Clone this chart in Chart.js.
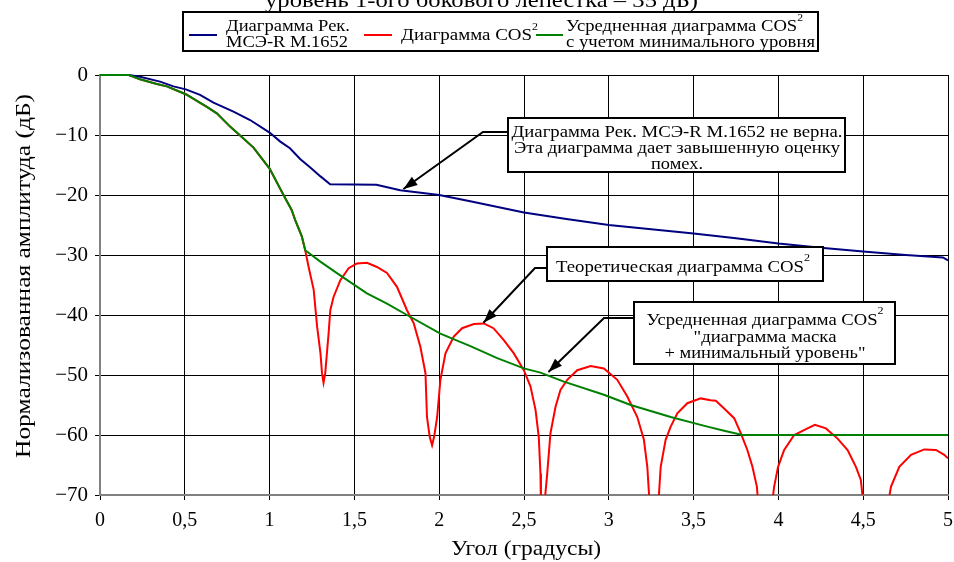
<!DOCTYPE html>
<html><head><meta charset="utf-8">
<script src="https://cdn.jsdelivr.net/npm/chart.js@4.4.0/dist/chart.umd.min.js"></script>
<style>html,body{margin:0;padding:0;background:#fff;}#wrap{width:954px;height:562px;}</style>
</head><body><div id="wrap"><canvas id="c" width="954" height="562"></canvas></div>
<script>
// ---- tick labels ----
const xTickLabels = ["0","0,5","1","1,5","2","2,5","3","3,5","4","4,5","5"];
const yTickLabels = ["0","\u221210","\u221220","\u221230","\u221240","\u221250","\u221260","\u221270"];

// ---- series: Рек. МСЭ-R M.1652 ----
const blueX = [0,0.17,0.236,0.354,0.433,0.506,0.59,0.669,0.787,0.885,1.0,1.063,1.12,1.18,1.24,1.3,1.357,1.63,1.77,2.0,2.19,2.5,2.75,3.0,3.25,3.5,3.75,4.0,4.25,4.5,4.75,4.97,5.0];
const blueY = [0,0,-0.3,-1.1,-1.9,-2.4,-3.3,-4.6,-6.1,-7.5,-9.6,-11.1,-12.2,-14.0,-15.4,-16.9,-18.2,-18.3,-19.2,-20.0,-21.1,-22.9,-24.0,-25.0,-25.7,-26.4,-27.2,-28.1,-28.8,-29.4,-30.0,-30.4,-30.9];

// ---- series: Диаграмма COS^2 (theoretical) ----
const redX = [0,0.17,0.236,0.335,0.394,0.506,0.63,0.689,0.767,0.846,0.905,1.0,1.082,1.13,1.151,1.19,1.21,1.23,1.26,1.28,1.30,1.309,1.318,1.328,1.348,1.358,1.377,1.417,1.466,1.515,1.574,1.633,1.692,1.751,1.81,1.85,1.889,1.919,1.928,1.944,1.958,1.97,1.988,2.007,2.037,2.086,2.135,2.204,2.263,2.32,2.381,2.44,2.499,2.538,2.568,2.587,2.597,2.600,2.619,2.637,2.656,2.686,2.715,2.755,2.814,2.893,2.971,3.05,3.109,3.168,3.207,3.227,3.242,3.291,3.306,3.335,3.365,3.404,3.463,3.542,3.60,3.631,3.68,3.739,3.778,3.817,3.847,3.873,3.883,3.960,3.975,3.998,4.034,4.093,4.172,4.215,4.28,4.349,4.408,4.457,4.486,4.503,4.643,4.664,4.713,4.782,4.86,4.929,4.978,5.0];
const redY = [0,0,-0.7,-1.5,-1.9,-3.2,-5.3,-6.4,-8.6,-10.6,-12.1,-15.6,-20.0,-22.5,-24.2,-26.9,-29.2,-32.0,-35.8,-41.9,-46.4,-49.7,-51.3,-49.7,-43.0,-39.2,-37.0,-34.2,-32.2,-31.4,-31.3,-32.0,-33.0,-35.3,-39.2,-41.4,-45.3,-49.7,-57.0,-60.3,-61.7,-60.3,-57.0,-50.8,-46.4,-43.6,-42.2,-41.5,-41.4,-42.2,-44.2,-46.4,-49.2,-51.9,-55.8,-60.3,-66.4,-72,-72,-66.4,-59.7,-55.3,-52.5,-50.8,-49.2,-48.5,-48.9,-50.8,-53.6,-57.0,-60.8,-65.3,-72,-72,-65.3,-60.8,-58.6,-56.4,-54.7,-53.9,-54.2,-54.3,-55.6,-57.2,-59.7,-62.5,-65.3,-68.6,-72,-72,-68.6,-65.3,-62.5,-60.0,-58.9,-58.3,-58.9,-60.6,-62.5,-65.3,-67.5,-72,-72,-68.6,-65.3,-63.3,-62.4,-62.5,-63.3,-63.9];

// ---- series: Усредненная диаграмма COS^2 с учетом минимального уровня ----
const greenX = [0,0.17,0.236,0.335,0.394,0.506,0.63,0.689,0.767,0.846,0.905,1.0,1.082,1.13,1.151,1.19,1.21,1.299,1.427,1.574,1.692,1.81,2.007,2.184,2.342,2.499,2.597,2.735,2.971,3.129,3.365,3.581,3.68,3.788,5.0];
const greenY = [0,0,-0.7,-1.5,-1.9,-3.2,-5.3,-6.4,-8.6,-10.6,-12.1,-15.6,-20.0,-22.5,-24.2,-26.9,-29.2,-31.1,-33.6,-36.4,-38.1,-40.0,-43.1,-45.2,-47.2,-48.9,-49.6,-51.1,-53.3,-55.0,-57.0,-58.6,-59.3,-60.0,-60.0];

const FONT = "'Liberation Serif','Times New Roman',serif";
const pts = (xs, ys) => xs.map((x, i) => ({x, y: ys[i]}));

// draw text made of segments [{t, sup}]; align 'left'|'center'; optional target width (horizontal stretch)
function drawRich(ctx, segs, x, y, size, align, target) {
  const supSize = Math.round(size * 0.62);
  let w = 0;
  segs.forEach(s => { ctx.font = (s.sup ? supSize : size) + "px " + FONT; w += ctx.measureText(s.t).width; });
  const k = target ? target / w : 1;
  const W = w * k;
  const x0 = align === 'center' ? x - W / 2 : x;
  ctx.save();
  ctx.translate(x0, y); ctx.scale(k, 1);
  ctx.textAlign = 'left'; ctx.textBaseline = 'alphabetic'; ctx.fillStyle = '#000';
  let cx = 0;
  segs.forEach(s => {
    ctx.font = (s.sup ? supSize : size) + "px " + FONT;
    ctx.fillText(s.t, cx, s.sup ? -size * 0.62 : 0);
    cx += ctx.measureText(s.t).width;
  });
  ctx.restore();
}

function arrow(ctx, p0, p1, tip) {
  ctx.save();
  ctx.strokeStyle = '#000'; ctx.fillStyle = '#000'; ctx.lineWidth = 2;
  ctx.beginPath(); ctx.moveTo(p0[0], p0[1]); ctx.lineTo(p1[0], p1[1]); ctx.lineTo(tip[0], tip[1]); ctx.stroke();
  const a = Math.atan2(tip[1] - p1[1], tip[0] - p1[0]);
  const L = 14, W = 5;
  ctx.beginPath();
  ctx.moveTo(tip[0], tip[1]);
  ctx.lineTo(tip[0] - L * Math.cos(a) + W * Math.sin(a), tip[1] - L * Math.sin(a) - W * Math.cos(a));
  ctx.lineTo(tip[0] - L * Math.cos(a) - W * Math.sin(a), tip[1] - L * Math.sin(a) + W * Math.cos(a));
  ctx.closePath(); ctx.fill();
  ctx.restore();
}

function box(ctx, x0, y0, x1, y1) {
  ctx.save();
  ctx.fillStyle = '#fff'; ctx.fillRect(x0, y0, x1 - x0, y1 - y0);
  ctx.strokeStyle = '#000'; ctx.lineWidth = 2; ctx.strokeRect(x0, y0, x1 - x0, y1 - y0);
  ctx.restore();
}

const annotations = {
  id: 'annotations',
  afterDatasetsDraw(chart) {
    const ctx = chart.ctx, sx = chart.scales.x, sy = chart.scales.y;
    const P = (x, y) => [sx.getPixelForValue(x), sy.getPixelForValue(y)];
    ctx.save();
    // annotation 1
    arrow(ctx, [508, 132], [483, 132], P(1.789, -19.0));
    box(ctx, 508, 118, 845, 172);
    drawRich(ctx, [{t: 'Диаграмма Рек. МСЭ-R M.1652 не верна.'}], 677, 136.5, 17, 'center', 331);
    drawRich(ctx, [{t: 'Эта диаграмма дает завышенную оценку'}], 677, 152.5, 17, 'center', 326);
    drawRich(ctx, [{t: 'помех.'}], 677, 168.5, 17, 'center', 52);
    // annotation 2
    arrow(ctx, [547, 268], [535, 268], P(2.261, -41.3));
    box(ctx, 547, 247, 823, 281);
    drawRich(ctx, [{t: 'Теоретическая диаграмма COS'}, {t: '2', sup: true}], 683, 272, 17, 'center', 254);
    // annotation 3
    arrow(ctx, [634, 318], [604, 318], P(2.644, -49.5));
    box(ctx, 634, 302, 895, 364);
    drawRich(ctx, [{t: 'Усредненная диаграмма COS'}, {t: '2', sup: true}], 765, 325, 17, 'center', 237);
    drawRich(ctx, [{t: '"диаграмма маска'}], 765, 342, 17, 'center', 143);
    drawRich(ctx, [{t: '+ минимальный уровень"'}], 765, 358, 17, 'center', 201);
    ctx.restore();
  },
  afterDraw(chart) {
    const ctx = chart.ctx;
    ctx.save();
    // clipped title remnant at the top edge
    drawRich(ctx, [{t: 'уровень 1-ого бокового лепестка \u2013 35 дБ)'}], 265, 7, 22, 'left', 433);
    // legend
    box(ctx, 183, 12, 818, 51);
    const lw = (c, x0, x1) => { ctx.strokeStyle = c; ctx.lineWidth = 2; ctx.beginPath(); ctx.moveTo(x0, 35); ctx.lineTo(x1, 35); ctx.stroke(); };
    lw('#000080', 189, 217);
    drawRich(ctx, [{t: 'Диаграмма Рек.'}], 226, 30.5, 16, 'left', 124);
    drawRich(ctx, [{t: 'МСЭ-R M.1652'}], 226, 46.5, 16, 'left', 122);
    lw('#ff0000', 364, 392);
    drawRich(ctx, [{t: 'Диаграмма COS'}, {t: '2', sup: true}], 401, 40, 16, 'left', 137);
    lw('#008000', 536, 563);
    drawRich(ctx, [{t: 'Усредненная диаграмма COS'}, {t: '2', sup: true}], 566, 30.5, 16, 'left', 237);
    drawRich(ctx, [{t: 'с учетом минимального уровня'}], 566, 46.5, 16, 'left', 249);
    // axis titles
    drawRich(ctx, [{t: 'Угол (градусы)'}], 526, 555, 21, 'center', 150);
    ctx.save();
    ctx.translate(30, 276); ctx.rotate(-Math.PI / 2);
    drawRich(ctx, [{t: 'Нормализованная амплитуда (дБ)'}], 0, 0, 22, 'center', 364);
    ctx.restore();
    ctx.restore();
  }
};

const lineClip = {left: 3, top: 3, right: 3, bottom: 0};

new Chart(document.getElementById('c'), {
  type: 'scatter',
  data: {
    datasets: [
      {label: 'Диаграмма Рек. МСЭ-R M.1652', data: pts(blueX, blueY), showLine: true, borderColor: '#000080', borderWidth: 2, pointRadius: 0, order: 1, tension: 0, clip: lineClip},
      {label: 'Диаграмма COS²', data: pts(redX, redY), showLine: true, borderColor: '#ff0000', borderWidth: 2, pointRadius: 0, order: 2, tension: 0, clip: lineClip},
      {label: 'Усредненная диаграмма COS² с учетом минимального уровня', data: pts(greenX, greenY), showLine: true, borderColor: '#008000', borderWidth: 2, pointRadius: 0, order: 0, tension: 0, clip: lineClip}
    ]
  },
  options: {
    responsive: false, animation: false, devicePixelRatio: 1,
    layout: {padding: {left: 0, top: 75, right: 6, bottom: 0}},
    plugins: {legend: {display: false}, tooltip: {enabled: false}},
    scales: {
      x: {
        type: 'linear', min: 0, max: 5,
        ticks: {stepSize: 0.5, autoSkip: false, maxRotation: 0, color: '#000', padding: 9,
          font: {family: FONT, size: 20},
          callback: v => xTickLabels[Math.round(v / 0.5)]},
        grid: {color: '#000', lineWidth: 1, tickLength: 5, drawTicks: true},
        border: {color: '#808080', width: 2},
        title: {display: false},
        afterFit: s => { s.height = 67; s.paddingLeft = 0; s.paddingRight = 0; }
      },
      y: {
        type: 'linear', min: -70, max: 0,
        ticks: {stepSize: 10, color: '#000', padding: 7,
          font: {family: FONT, size: 21},
          callback: v => yTickLabels[Math.round(-v / 10)]},
        grid: {color: '#000', lineWidth: 1, tickLength: 5, drawTicks: true},
        border: {color: '#808080', width: 2},
        title: {display: false},
        afterFit: s => { s.width = 100; s.paddingTop = 0; s.paddingBottom = 0; }
      }
    }
  },
  plugins: [annotations]
});
</script></body></html>
